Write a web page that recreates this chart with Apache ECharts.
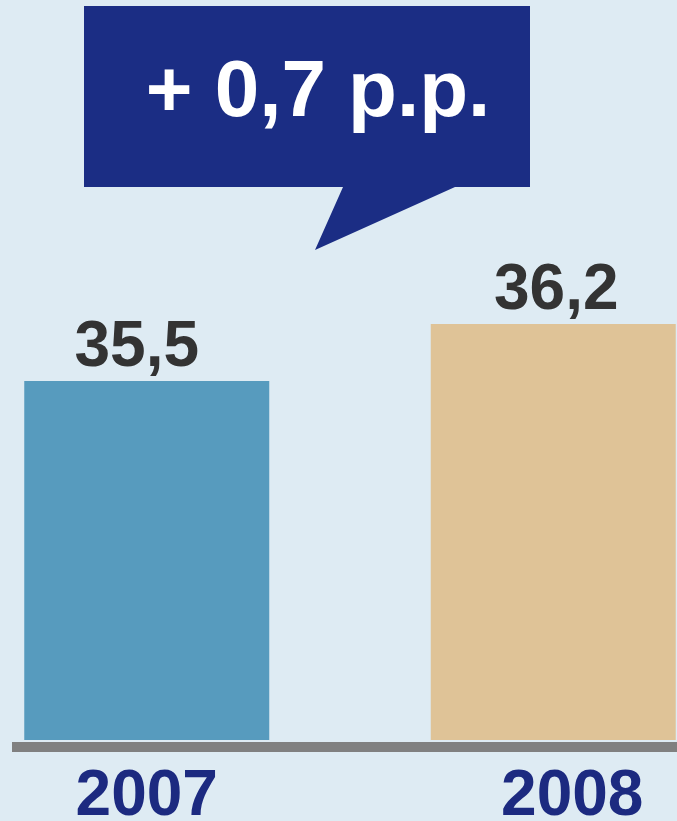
<!DOCTYPE html>
<html>
<head>
<meta charset="utf-8">
<script src="https://cdn.jsdelivr.net/npm/echarts@6/dist/echarts.min.js"></script>
<style>
	html, body { margin: 0; padding: 0; background: #deebf3; }
	#chart { width: 677px; height: 821px; }
</style>
</head>
<body>
<div id="chart"></div>
<script>
// data
var years = ['2007', '2008'];
var values = [35.5, 36.2];
var barColors = ['#579bbe', '#dfc397'];

function fmt(v) {
	return String(v).replace('.', ',');
}

var diff = (values[1] - values[0]).toFixed(1);
var calloutText = '+ ' + fmt(diff) + ' p.p.';

var myChart = echarts.init(document.getElementById('chart'));

var option = {
	backgroundColor: '#deebf3',
	animation: false,
	grid: [{
		left: -56.5,
		right: -79.5,
		top: 14,
		bottom: 81,
		outerBoundsMode: 'none'
	}, {
		// only used for the grey baseline
		left: 12,
		right: 0,
		top: 14,
		bottom: 74,
		outerBoundsMode: 'none'
	}],
	xAxis: [{
		type: 'category',
		gridIndex: 0,
		data: [
			{ value: years[0] },
			{ value: years[1], textStyle: { padding: [0, 0, 0, 38] } }
		],
		axisLine: { show: false },
		axisTick: { show: false },
		axisLabel: {
			margin: 25,
			color: '#1c2a80',
			fontSize: 64,
			fontWeight: 'bold',
			fontFamily: 'Liberation Sans, Arial, sans-serif'
		}
	}, {
		type: 'category',
		gridIndex: 1,
		data: [''],
		axisLine: { show: true, lineStyle: { color: '#808080', width: 10, cap: 'butt' } },
		axisTick: { show: false },
		axisLabel: { show: false }
	}],
	yAxis: [{
		type: 'value',
		gridIndex: 0,
		min: 31.1,
		max: 40,
		show: false
	}, {
		type: 'value',
		gridIndex: 1,
		show: false
	}],
	series: [{
		type: 'bar',
		xAxisIndex: 0,
		yAxisIndex: 0,
		barWidth: 245,
		data: values.map(function (v, i) {
			return {
				value: v,
				itemStyle: { color: barColors[i] },
				label: { offset: i === 0 ? [-10, 0] : [3, 0] }
			};
		}),
		label: {
			show: true,
			position: 'top',
			distance: 1,
			color: '#333333',
			fontSize: 64,
			fontWeight: 'bold',
			fontFamily: 'Liberation Sans, Arial, sans-serif',
			formatter: function (p) { return fmt(p.value); }
		}
	}],
	graphic: [{
		type: 'polygon',
		shape: {
			points: [[84, 6], [530, 6], [530, 187], [455, 187], [315, 250], [343, 187], [84, 187]]
		},
		style: { fill: '#1b2d84' }
	}, {
		type: 'text',
		x: 318,
		y: 94,
		style: {
			text: calloutText,
			fill: '#ffffff',
			font: 'bold 80px "Liberation Sans", Arial, sans-serif',
			align: 'center',
			verticalAlign: 'middle'
		}
	}]
};

myChart.setOption(option);
</script>
</body>
</html>
